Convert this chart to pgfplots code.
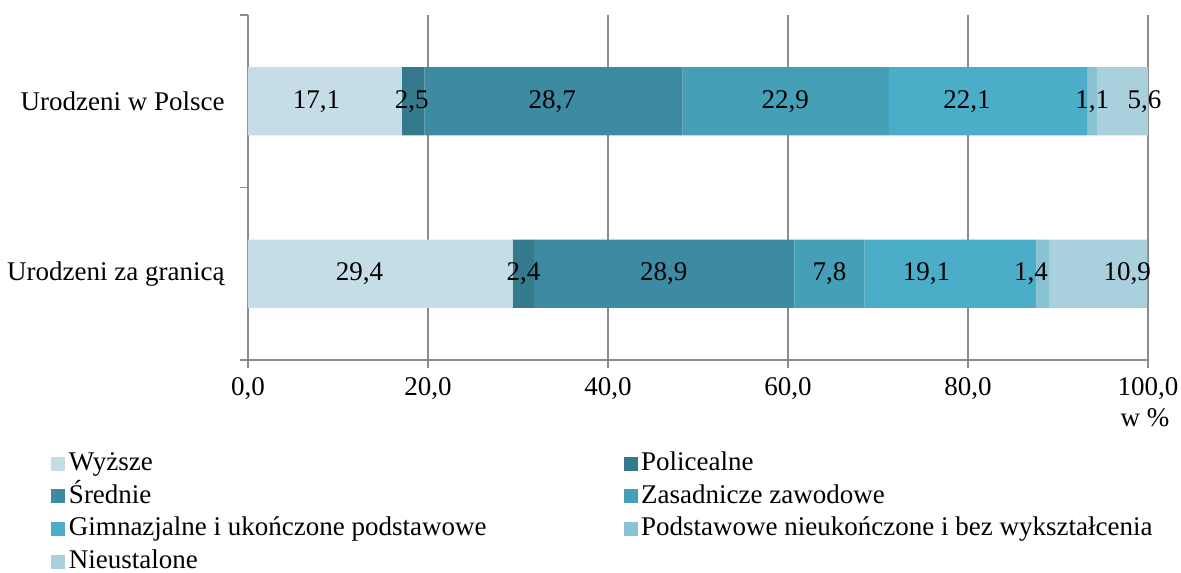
\documentclass[border=0pt]{standalone}
\usepackage{pgfplots}
\usepackage{pgfplotstable}
\pgfplotsset{compat=1.18}
\usepackage{fontspec}
\setmainfont{Liberation Serif}
\definecolor{cA}{HTML}{C5DDE6}
\definecolor{cB}{HTML}{357A8C}
\definecolor{cC}{HTML}{3D8BA2}
\definecolor{cD}{HTML}{459FB7}
\definecolor{cE}{HTML}{4BADC7}
\definecolor{cF}{HTML}{88C2D3}
\definecolor{cG}{HTML}{AAD0DE}
\definecolor{gridc}{HTML}{8C8C8C}

\pgfplotstableread{
y wy pol sr zas gim pod nie
1 17.1 2.5 28.7 22.9 22.1 1.1 5.6
0 29.4 2.4 28.9 7.8 19.1 1.4 10.9
}\tData

\pgfplotstableread{
x y lab
7.6 1 17,1
18.2 1 2,5
33.8 1 28,7
59.7 1 22,9
79.9 1 22,1
93.8 1 1,1
99.6 1 5,6
12.4 0 29,4
30.6 0 2,4
46.2 0 28,9
64.6 0 7,8
75.4 0 19,1
87.0 0 1,4
97.7 0 10,9
}\tLab

\pgfplotsset{common/.style={scale only axis, width=450pt, height=172.5pt,
  xmin=0, xmax=100, ymin=-0.5, ymax=1.5}}

\begin{document}
\fontsize{13.5}{16}\selectfont
\begin{tikzpicture}
\useasboundingbox (-124pt,-106pt) rectangle (466.5pt,180pt);
\begin{axis}[common, xbar stacked, bar width=0.395,
  axis x line*=bottom, axis y line*=left,
  axis line style={gridc, line width=0.8pt, -},
  xtick={0,20,...,100}, xmajorgrids, grid style={gridc, line width=0.8pt},
  tick align=outside, major tick length=4pt, minor tick length=4pt,
  every tick/.style={gridc, line width=0.8pt},
  x tick label style={/pgf/number format/fixed, /pgf/number format/fixed zerofill,
    /pgf/number format/precision=1, /pgf/number format/use comma},
  /pgf/number format/assume math mode=true,
  ytick={0,1}, yticklabels={Urodzeni za granicą, Urodzeni w Polsce},
  major y tick style={draw=none},
  minor ytick={-0.5,0.5,1.5},
  y tick label style={xshift=-3pt},
  xlabel={w \%},
  xlabel style={at={(axis description cs:1,0)}, anchor=center, yshift=-29pt, xshift=-1.5pt},
  legend columns=2,
  legend style={draw=none, fill=none, at={(0,0)}, anchor=north west,
    xshift=-98.5pt, yshift=-43.5pt, inner sep=0pt, row sep=0pt,
    /tikz/every even column/.append style={column sep=67pt},
    /tikz/every odd column/.append style={column sep=0.3pt},
    cells={anchor=west},
    nodes={inner sep=1.5pt, text height=10pt, text depth=3.3pt}},
  legend image code/.code={\fill[#1] (0pt,-3.5pt) rectangle (7pt,3.5pt);},
]
\addplot[fill=cA, draw=none] table[x=wy, y=y] {\tData};
\addlegendentry{Wyższe}
\addplot[fill=cB, draw=none] table[x=pol, y=y] {\tData};
\addlegendentry{Policealne}
\addplot[fill=cC, draw=none] table[x=sr, y=y] {\tData};
\addlegendentry{Średnie}
\addplot[fill=cD, draw=none] table[x=zas, y=y] {\tData};
\addlegendentry{Zasadnicze zawodowe}
\addplot[fill=cE, draw=none] table[x=gim, y=y] {\tData};
\addlegendentry{Gimnazjalne i ukończone podstawowe}
\addplot[fill=cF, draw=none] table[x=pod, y=y] {\tData};
\addlegendentry{Podstawowe nieukończone i bez wykształcenia}
\addplot[fill=cG, draw=none] table[x=nie, y=y] {\tData};
\addlegendentry{Nieustalone}
\end{axis}
\begin{axis}[common, hide axis, clip=false]
\addplot[draw=none, mark=none, nodes near coords, point meta=explicit symbolic,
  every node near coord/.append style={anchor=center, text=black, inner sep=0pt}]
  table[x=x, y=y, meta=lab] {\tLab};
\end{axis}
\end{tikzpicture}
\end{document}
